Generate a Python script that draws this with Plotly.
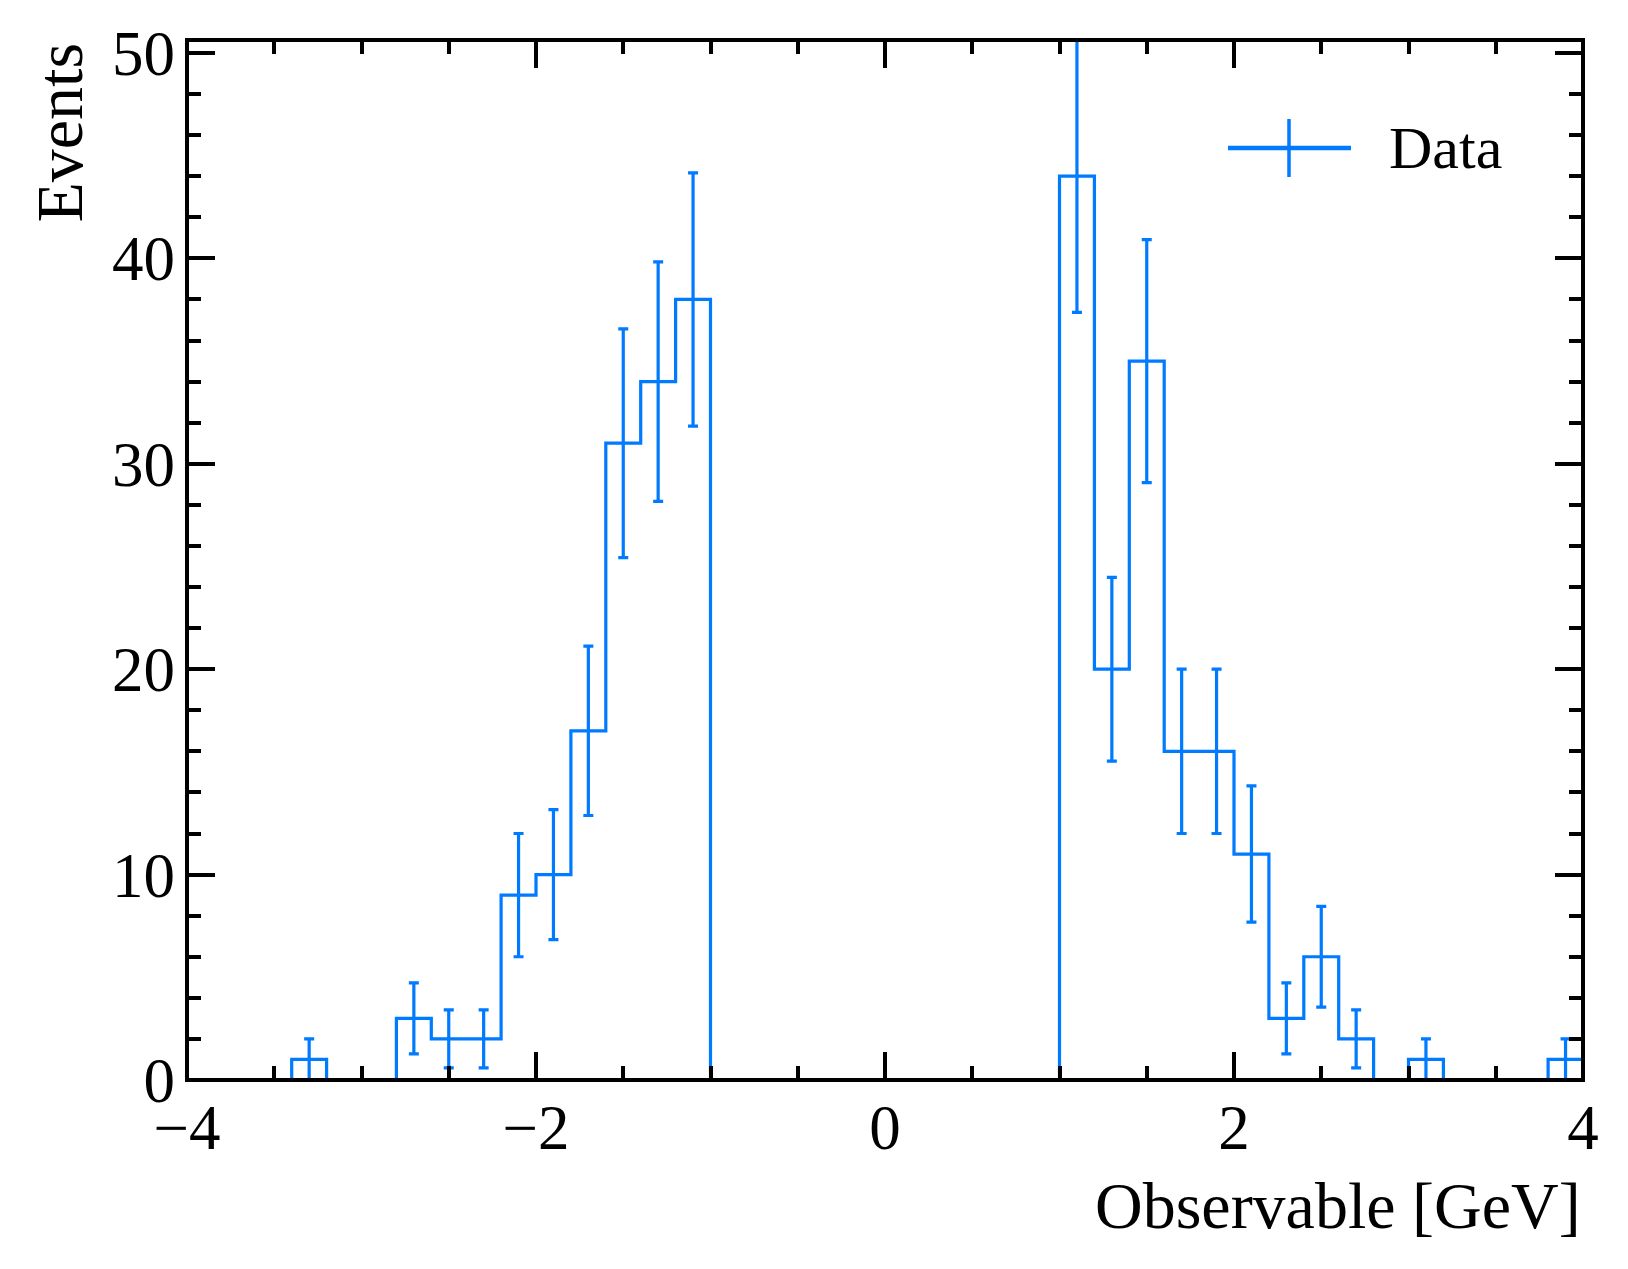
import numpy as np
import plotly.graph_objects as go

# histogram binning and counts
bin_edges = np.round(np.linspace(-4.0, 4.0, 41), 2)
counts = [0, 0, 0, 1, 0, 0, 3, 2, 2, 9,
          10, 17, 31, 34, 38, 0, 0, 0, 0, 0,
          0, 0, 0, 0, 0, 44, 20, 35, 16, 16,
          11, 3, 6, 2, 0, 1, 0, 0, 0, 1]
label = "Data"
x_title = "Observable [GeV]"
y_title = "Events"

blue = "#007AFF"
font_name = "Liberation Serif, Times New Roman, serif"

counts = np.array(counts, dtype=float)
centers = 0.5 * (bin_edges[:-1] + bin_edges[1:])
errors = np.sqrt(counts)
has = counts > 0

# the page body has an 8px margin, so the figure is a bit smaller than the window
OFF = 8
W, H = 1612, 1253
ml, mr, mt, mb = 179, 37, 32, 181
pw, ph = W - ml - mr, H - mt - mb


def px(x):
    # page pixel -> paper x
    return (x - OFF - ml) / pw


def py(y):
    # page pixel -> paper y
    return (H - mb - (y - OFF)) / ph


fig = go.Figure()

# step outline
fig.add_trace(go.Scatter(
    x=bin_edges, y=np.append(counts, counts[-1]),
    mode="lines", line=dict(shape="hv", color=blue, width=3.2),
    showlegend=False, hoverinfo="skip",
))

# poisson error bars at bin centres
fig.add_trace(go.Scatter(
    x=centers[has], y=counts[has], mode="markers",
    marker=dict(size=1, color=blue, opacity=0),
    error_y=dict(type="data", array=errors[has], color=blue,
                 thickness=3.2, width=5),
    showlegend=False,
))

axis_common = dict(
    showgrid=False, zeroline=False, showline=False,
    mirror="ticks", ticks="inside", ticklen=28,
    tickwidth=3.5, tickcolor="black",
    tickfont=dict(family=font_name, size=63, color="black"),
)

fig.update_xaxes(range=[-4, 4], tick0=-4, dtick=2,
                 minor=dict(ticks="inside", dtick=0.5, ticklen=14,
                            tickwidth=3.5, tickcolor="black"),
                 ticklabelstandoff=5, **axis_common)
fig.update_yaxes(range=[0, 50.63], tick0=0, dtick=10,
                 minor=dict(ticks="inside", dtick=2, ticklen=14,
                            tickwidth=3.5, tickcolor="black"),
                 ticklabelstandoff=11, **axis_common)

# frame on top of the data, centred on the plot edge like matplotlib spines
fig.add_shape(type="rect", xref="x domain", yref="y domain",
              x0=0, x1=1, y0=0, y1=1, layer="above",
              line=dict(color="black", width=4))

# legend drawn by hand so the errorbar glyph has the right size
fig.add_shape(type="line", xref="paper", yref="paper",
              x0=px(1228), x1=px(1351), y0=py(148), y1=py(148),
              line=dict(color=blue, width=4.5))
fig.add_shape(type="line", xref="paper", yref="paper",
              x0=px(1289), x1=px(1289), y0=py(119), y1=py(177),
              line=dict(color=blue, width=3.5))
fig.add_annotation(x=px(1387), y=py(148), xref="paper", yref="paper",
                   xanchor="left", yanchor="middle", showarrow=False,
                   text=label, font=dict(family=font_name, size=60, color="black"))

fig.add_annotation(x=1, y=0, xref="paper", yref="paper", xanchor="right",
                   yanchor="top", yshift=-87, showarrow=False, text=x_title,
                   font=dict(family=font_name, size=66, color="black"))
fig.add_annotation(x=0, y=1, xref="paper", yref="paper", xanchor="right",
                   yanchor="top", xshift=-90, yshift=-1, textangle=-90,
                   showarrow=False, text=y_title,
                   font=dict(family=font_name, size=66, color="black"))

fig.update_layout(
    width=W, height=H,
    margin=dict(l=ml, r=mr, t=mt, b=mb),
    plot_bgcolor="white", paper_bgcolor="white",
    showlegend=False,
)

fig.write_html("out.html")
